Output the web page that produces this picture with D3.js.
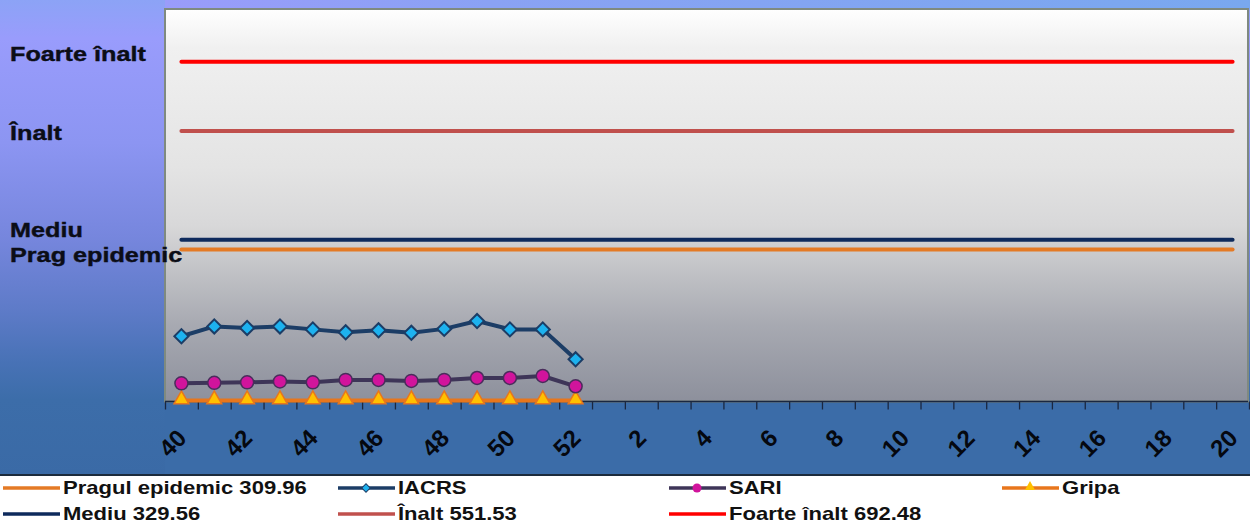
<!DOCTYPE html>
<html><head><meta charset="utf-8">
<script src="https://cdn.jsdelivr.net/npm/d3@7"></script>
<style>html,body{margin:0;padding:0;background:#fff;overflow:hidden}svg{display:block;font-family:"Liberation Sans",Arial,sans-serif;}</style>
</head><body><svg id="c" width="1250" height="524"></svg>
<script>
// ---------------- data ----------------
const weeks = ["40","41","42","43","44","45","46","47","48","49","50","51","52",
  "1","2","3","4","5","6","7","8","9","10","11","12","13","14","15","16","17","18","19","20"];
const tickLabels = ["40","42","44","46","48","50","52","2","4","6","8","10","12","14","16","18","20"];
const dataWeeks = ["40","41","42","43","44","45","46","47","48","49","50","51","52"];
const iacrs = [133,153,150,153,147,141,145,140,148,164,147,147,86];
const sari  = [37,38,39,41,39,44,44,42,44,48,48,52,31];
const gripa = [2,2,2,2,2,2,2,2,2,2,2,2,2];
const thresholdNames  = ["Pragul epidemic 309.96","Mediu 329.56","Înalt 551.53","Foarte înalt 692.48"];
const thresholdValues = [309.96, 329.56, 551.53, 692.48];
const levelLabels = ["Foarte înalt","Înalt","Mediu","Prag epidemic"];
const levelValues = [692.48, 551.53, 329.56, 309.96];
const yDomain = [0, 800];

// ---------------- setup ----------------
const svg = d3.select("#c");
const W = 1250, H = 524;
const plot = {l:165, t:9, r:1248, b:401.5};
const defs = svg.append("defs");

function grad(id, stops, x2, y2){
  const g = defs.append("linearGradient").attr("id", id)
    .attr("x1",0).attr("y1",0).attr("x2",x2).attr("y2",y2);
  stops.forEach(s => g.append("stop").attr("offset", s[0]).attr("stop-color", s[1]));
}
grad("bg", [[0,"#8ca3f6"],[0.08,"#999cfc"],[0.3,"#8c95f2"],[0.5,"#7686dd"],[0.65,"#5e7bc8"],[0.76,"#4872b6"],[0.84,"#3c6da9"],[1,"#3a6aa6"]], 0, 1);
grad("topstrip", [[0,"#9a9cfb"],[0.3,"#8aa2f4"],[1,"#79a8ef"]], 1, 0);
grad("plotbg", [[0,"#ffffff"],[0.1,"#f0f0f0"],[0.4,"#e4e4e4"],[0.55,"#d8d8d9"],[0.68,"#bfc0c4"],[0.8,"#a8aab2"],[1,"#8d909c"]], 0, 1);

svg.append("rect").attr("width",W).attr("height",476).attr("fill","url(#bg)");
svg.append("rect").attr("x",plot.l).attr("width",W-plot.l).attr("height",plot.t).attr("fill","url(#topstrip)");
svg.append("rect").attr("x",plot.l).attr("y",401).attr("width",W-plot.l).attr("height",73).attr("fill","#3b6ca8");
svg.append("rect").attr("x",0).attr("y",474).attr("width",W).attr("height",2).attr("fill","#1c2b3c");
svg.append("rect").attr("x",0).attr("y",476).attr("width",W).attr("height",48).attr("fill","#ffffff");

// plot area
svg.append("rect").attr("x",plot.l).attr("y",plot.t).attr("width",plot.r-plot.l).attr("height",plot.b-plot.t)
  .attr("fill","url(#plotbg)").attr("stroke","#7f8a80").attr("stroke-width",2);

// ---------------- scales ----------------
const xPoint = d3.scalePoint().domain(weeks).range([165,1249]).padding(0.5);
const xBound = d3.scaleLinear().domain([0, weeks.length]).range([165,1249]);
const y = d3.scaleLinear().domain(yDomain).range([401.5, 9]);

// threshold lines
const thrColors = ["#e47a25","#0e2a5c","#c0504d","#ff0000"];
const firstW = weeks[0], lastW = weeks[weeks.length-1];
svg.append("g").selectAll("line").data(thresholdValues).join("line")
  .attr("x1", xPoint(firstW)).attr("x2", xPoint(lastW))
  .attr("y1", d=>y(d)).attr("y2", d=>y(d))
  .attr("stroke", (d,i)=>thrColors[i]).attr("stroke-width",4).attr("stroke-linecap","round");

// x axis ticks (between categories)
const tickAxis = d3.axisBottom(xBound).tickValues(d3.range(weeks.length+1)).tickSize(8).tickFormat("");
const gt = svg.append("g").attr("transform","translate(0,401.5)").call(tickAxis);
gt.select(".domain").attr("stroke","#1a2740").attr("stroke-width",1.5).attr("d","M165,0H1248");
gt.selectAll(".tick line").attr("stroke","#1a2740").attr("stroke-width",1.3);

// x axis labels
const labAxis = d3.axisBottom(xPoint).tickValues(tickLabels).tickSize(0);
const gl = svg.append("g").attr("transform","translate(0,401.5)").call(labAxis);
gl.select(".domain").remove();
gl.selectAll(".tick text")
  .attr("font-family","'Liberation Sans',Arial,sans-serif").attr("font-size",24).attr("font-weight","bold")
  .attr("fill","#05080f").attr("text-anchor","end").attr("dy",0).attr("y",0)
  .attr("transform","translate(6,38) rotate(-45)");

// series
const line = d3.line().x((d,i)=>xPoint(dataWeeks[i])).y(d=>y(d));
function series(vals, color){
  svg.append("path").datum(vals).attr("d", line).attr("fill","none")
    .attr("stroke", color).attr("stroke-width",4).attr("stroke-linejoin","round");
}
series(gripa, "#e8761c");
series(sari, "#3e3558");
series(iacrs, "#1c3d66");

const sym = (type,size)=>d3.symbol().type(type).size(size)();
// gripa triangles
svg.append("g").selectAll("path").data(gripa).join("path")
  .attr("transform",(d,i)=>`translate(${xPoint(dataWeeks[i])},${y(d)-1})`)
  .attr("d", sym(d3.symbolTriangle, 95)).attr("fill","#ffc000").attr("stroke","#e8761c").attr("stroke-width",1.5);
// sari circles
svg.append("g").selectAll("circle").data(sari).join("circle")
  .attr("cx",(d,i)=>xPoint(dataWeeks[i])).attr("cy",d=>y(d)).attr("r",6.5)
  .attr("fill","#d1149c").attr("stroke","#4a2d5c").attr("stroke-width",1.5);
// iacrs diamonds
svg.append("g").selectAll("path").data(iacrs).join("path")
  .attr("transform",(d,i)=>`translate(${xPoint(dataWeeks[i])},${y(d)}) rotate(45)`)
  .attr("d", d => "M-5,-5H5V5H-5Z").attr("fill","#1db2ef").attr("stroke","#1c3d66").attr("stroke-width",2);

// level labels on left
const levelOffsets = [-1, 9, -3, 13];
const lv = svg.append("g").selectAll("text").data(levelLabels).join("text")
  .attr("x",10).attr("y",(d,i)=>y(levelValues[i]) + levelOffsets[i])
  .attr("font-size",21).attr("font-weight","bold").attr("fill","#0b0d16")
  .attr("stroke","#0b0d16").attr("stroke-width",0.4).text(d=>d);
lv.each(function(){ const L=this.getComputedTextLength(); d3.select(this).attr("textLength",L*1.2).attr("lengthAdjust","spacingAndGlyphs"); });

// ---------------- legend ----------------
const legendItems = [
  {name: thresholdNames[0], color: thrColors[0], x: 3,   row:0, marker:null},
  {name: "IACRS",           color: "#1c3d66",    x: 338, row:0, marker:"diamond"},
  {name: "SARI",            color: "#3e3558",    x: 669, row:0, marker:"circle"},
  {name: "Gripa",           color: "#e8761c",    x: 1002,row:0, marker:"triangle"},
  {name: thresholdNames[1], color: thrColors[1], x: 3,   row:1, marker:null},
  {name: thresholdNames[2], color: thrColors[2], x: 338, row:1, marker:null},
  {name: thresholdNames[3], color: thrColors[3], x: 669, row:1, marker:null}
];
const rowBase = [494, 520];
const lg = svg.append("g").selectAll("g").data(legendItems).join("g");
lg.append("line").attr("x1",d=>d.x).attr("x2",d=>d.x+57)
  .attr("y1",d=>rowBase[d.row]-6).attr("y2",d=>rowBase[d.row]-6)
  .attr("stroke",d=>d.color).attr("stroke-width",3.5);
lg.filter(d=>d.marker==="diamond").append("path")
  .attr("transform",d=>`translate(${d.x+28},${rowBase[d.row]-6}) rotate(45)`)
  .attr("d","M-3,-3H3V3H-3Z").attr("fill","#1db2ef").attr("stroke","#1c3d66").attr("stroke-width",1);
lg.filter(d=>d.marker==="circle").append("circle")
  .attr("cx",d=>d.x+28).attr("cy",d=>rowBase[d.row]-6).attr("r",4.5).attr("fill","#d1149c");
lg.filter(d=>d.marker==="triangle").append("path")
  .attr("transform",d=>`translate(${d.x+28},${rowBase[d.row]-7})`)
  .attr("d", sym(d3.symbolTriangle, 45)).attr("fill","#ffc000");
const lt = lg.append("text").attr("x",d=>d.x+60).attr("y",d=>rowBase[d.row])
  .attr("font-size",19).attr("font-weight","bold").attr("fill","#111").text(d=>d.name);
lt.each(function(){ const L=this.getComputedTextLength(); d3.select(this).attr("textLength",L*1.16).attr("lengthAdjust","spacingAndGlyphs"); });
</script></body></html>
